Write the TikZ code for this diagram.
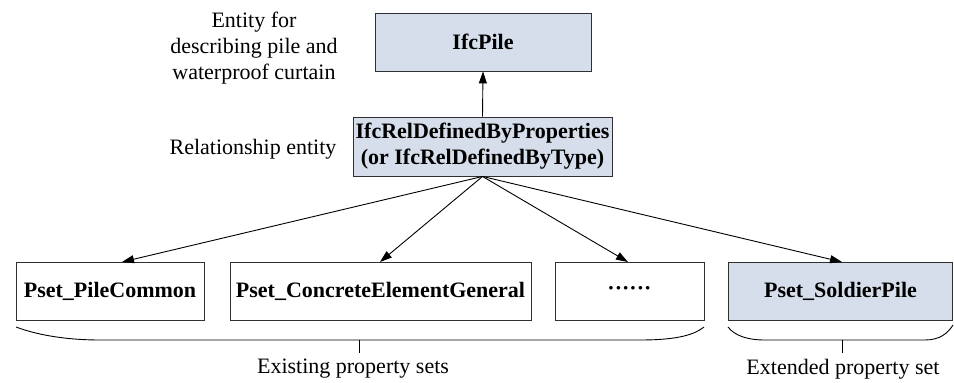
\documentclass[tikz,border=0pt]{standalone}
\usepackage{fontspec}
\setmainfont{Liberation Serif}
\usetikzlibrary{arrows.meta}
\definecolor{entityfill}{HTML}{D5DEEA}
\definecolor{edgegray}{HTML}{303030}
\tikzset{
  box/.style={draw=edgegray, line width=0.9pt, inner sep=0pt, font=\fontsize{22}{26}\selectfont\bfseries, align=center},
  entity/.style={box, fill=entityfill},
  pset/.style={box, fill=white},
  link/.style={line width=0.9pt, -{Triangle[length=12pt,width=8pt]}},
  brace/.style={line width=0.9pt},
  caption/.style={font=\fontsize{22}{26}\selectfont, align=center, inner sep=0pt}
}
\begin{document}
\begin{tikzpicture}[x=1pt, y=-1pt]
\useasboundingbox (0,0) rectangle (954,383);

% entity boxes
\node[entity, minimum width=216pt, minimum height=58pt] (pile) at (483,42) {IfcPile};
\node[entity, minimum width=259pt, minimum height=59pt] (rel) at (482.5,146.5)
  {IfcRelDefinedByProperties\\(or IfcRelDefinedByType)};

% property set boxes
\node[pset, minimum width=188pt, minimum height=58pt] (p1) at (110,291) {Pset\_PileCommon};
\node[pset, minimum width=301pt, minimum height=58pt] (p2) at (380.5,291) {Pset\_ConcreteElementGeneral};
\node[pset, minimum width=149pt, minimum height=58pt] (p3) at (629.5,291) {\textbf{······}};
\node[entity, minimum width=224pt, minimum height=58pt] (p4) at (840.5,291) {Pset\_SoldierPile};

% side captions
\node[caption] (capent) at (254,48) {Entity for\\describing pile and\\waterproof curtain};
\node[caption] (caprel) at (253,149) {Relationship entity};

% connectors
\draw[link] (rel.north) -- (pile.south);
\coordinate (hub) at (rel.south);
\draw[link] (hub) -- (122,262);
\draw[link] (hub) -- (380,262);
\draw[link] (hub) -- (628,262);
\draw[link] (hub) -- (842,262);

% group brackets
\draw[brace] (16,327) .. controls (40,336) and (70,340) .. (100,340)
  -- (640,340) .. controls (680,340) and (695,334) .. (704,327);
\coordinate (b1) at (359,340);
\draw[brace] (b1) -- ++(0,13);
\node[caption, anchor=north] (capexist) at (353,359) {Existing property sets};

\draw[brace] (728,327) .. controls (735,336) and (748,340) .. (765,340)
  -- (925,340) .. controls (940,340) and (948,333) .. (953,325);
\coordinate (b2) at (842,340);
\draw[brace] (b2) -- ++(0,13);
\node[caption, anchor=north] (capext) at (843,359) {Extended property set};
\end{tikzpicture}
\end{document}
